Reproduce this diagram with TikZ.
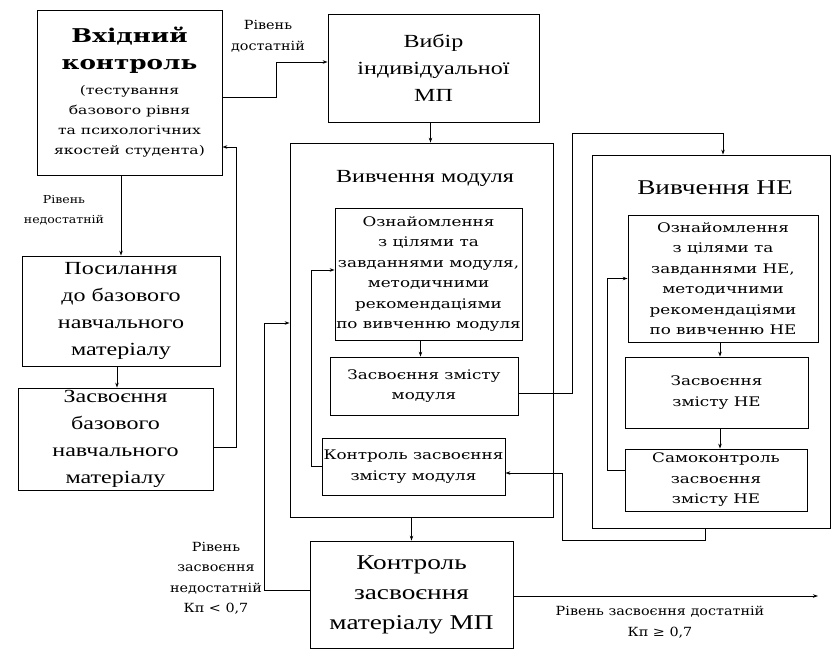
\documentclass[tikz,border=0pt]{standalone}
\usepackage{fontspec}
\setmainfont{DejaVu Serif}
\newfontfamily\tfam[FakeStretch=1.3]{Liberation Serif}
\newfontfamily\bfam[FakeStretch=1.27]{DejaVu Serif}
\newfontfamily\sfam[FakeStretch=1.3]{DejaVu Serif}
\newfontfamily\lfam[FakeStretch=1.14]{DejaVu Serif}
\usetikzlibrary{arrows.meta}
\newcommand{\ttl}{\tfam\fontsize{18.5}{27}\selectfont}
\newcommand{\ttlb}{\tfam\fontsize{21}{30}\selectfont}
\newcommand{\inr}{\bfam\fontsize{13.2}{20.5}\selectfont}
\newcommand{\sub}{\sfam\fontsize{12}{20}\selectfont}
\newcommand{\hd}{\fontsize{19}{27}\selectfont\bfseries}
\newcommand{\lbl}{\lfam\fontsize{12.6}{20.5}\selectfont}
\newcommand{\lbls}{\lfam\fontsize{11}{20}\selectfont}
\begin{document}
\begin{tikzpicture}[x=1pt,y=-1pt,line width=0.8pt,
  box/.style={draw,align=center,inner sep=0pt},
  tbox/.style={box,font=\ttl},
  ibox/.style={box,font=\inr},
  arr/.style={-{Stealth[length=5pt,width=3.5pt]}},
  txt/.style={align=center,inner sep=0pt,font=\lbl}]
\useasboundingbox (0,0) rectangle (838,651);
% boxes
\node[box,font=\sub,minimum width=185pt,minimum height=165pt] (in) at (129.5,92.5)
  {{\hd Вхідний}\\[7pt]{\hd контроль}\\[5pt](тестування\\базового рівня\\та психологічних\\якостей студента)};
\node[tbox,minimum width=211pt,minimum height=108pt] (vyb) at (433.5,68)
  {Вибір\\індивідуальної\\МП};
\node[tbox,minimum width=198pt,minimum height=110pt] (pos) at (121,311)
  {Посилання\\до базового\\навчального\\матеріалу};
\node[tbox,minimum width=195pt,minimum height=102pt] (zas) at (115.5,439)
  {Засвоєння\\базового\\навчального\\матеріалу};
\node[box,minimum width=263pt,minimum height=374pt] (mod) at (421.5,330) {};
\node[txt,font=\ttl] (modt) at (425,178) {Вивчення модуля};
\node[ibox,minimum width=187pt,minimum height=132pt] (m1) at (428.5,274)
  {Ознайомлення\\з цілями та\\завданнями модуля,\\методичними\\рекомендаціями\\по вивченню модуля};
\node[ibox,minimum width=188pt,minimum height=58pt] (m2) at (424,386)
  {Засвоєння змісту\\модуля};
\node[ibox,minimum width=183pt,minimum height=57pt] (m3) at (413.5,466.5)
  {Контроль засвоєння\\змісту модуля};
\node[box,font=\ttlb,minimum width=203pt,minimum height=107pt] (kon) at (411.5,594.5)
  {Контроль\\засвоєння\\матеріалу МП};
\node[box,minimum width=238pt,minimum height=373pt] (ne) at (711,341.5) {};
\node[txt,font=\ttlb] (net) at (715,188) {Вивчення НЕ};
\node[ibox,minimum width=190pt,minimum height=127pt] (n1) at (723,278.5)
  {Ознайомлення\\з цілями та\\завданнями НЕ,\\методичними\\рекомендаціями\\по вивченню НЕ};
\node[ibox,minimum width=183pt,minimum height=71pt] (n2) at (716.5,392.5)
  {Засвоєння\\змісту НЕ};
\node[ibox,minimum width=182pt,minimum height=62pt] (n3) at (716,480)
  {Самоконтроль\\засвоєння\\змісту НЕ};
% labels
\node[txt] (l1) at (268,36) {Рівень\\достатній};
\node[txt,font=\lbls] (l2) at (64,210) {Рівень\\недостатній};
\node[txt] (l3) at (216,578) {Рівень\\засвоєння\\недостатній\\Кп < 0,7};
\node[txt] (l4) at (660,622) {Рівень засвоєння достатній\\Кп ≥ 0,7};
% coordinates
\coordinate (up) at (572,133);
\coordinate (dn) at (562,540);
\coordinate (out) at (818,596);
% connectors
\draw[arr] ([yshift=-4.5pt]in.east) -- ++(54,0) |- ([yshift=6pt]vyb.west);
\draw[arr] ([xshift=-3pt]vyb.south) -- ([xshift=-3pt]vyb.south |- mod.north);
\draw[arr] (pos.north |- in.south) -- (pos.north);
\draw[arr] ([xshift=-4pt]pos.south) -- ([xshift=-4pt]pos.south |- zas.north);
\draw[arr] ([yshift=-8pt]zas.east) -- ++(23,0) |- ([yshift=-54.5pt]in.east);
\draw[arr] ([xshift=-8pt]m1.south) -- ([xshift=-8pt]m1.south |- m2.north);
\draw[arr] (m3.west) -- ++(-10,0) |- ([yshift=4pt]m1.west);
\draw[arr] ([yshift=-7pt]m2.east) -| (up) -| ([xshift=12pt]ne.north);
\draw[arr] (kon.north |- mod.south) -- (kon.north);
\draw[arr] ([yshift=4.5pt]kon.west) -- ++(-45,0) |- ([yshift=7pt]mod.west);
\draw[arr] ([yshift=-1.5pt]kon.east) -- (out);
\draw[arr] ([xshift=-3pt]n1.south) -- ([xshift=-3pt]n1.south |- n2.north);
\draw[arr] ([xshift=3.5pt]n2.south) -- ([xshift=3.5pt]n2.south |- n3.north);
\draw[arr] ([yshift=10pt]n3.west) -- ++(-17,0) |- (n1.west);
\draw[arr] ([xshift=-6pt]ne.south) |- (dn) |- ([yshift=-6.5pt]m3.east);
\end{tikzpicture}
\end{document}
